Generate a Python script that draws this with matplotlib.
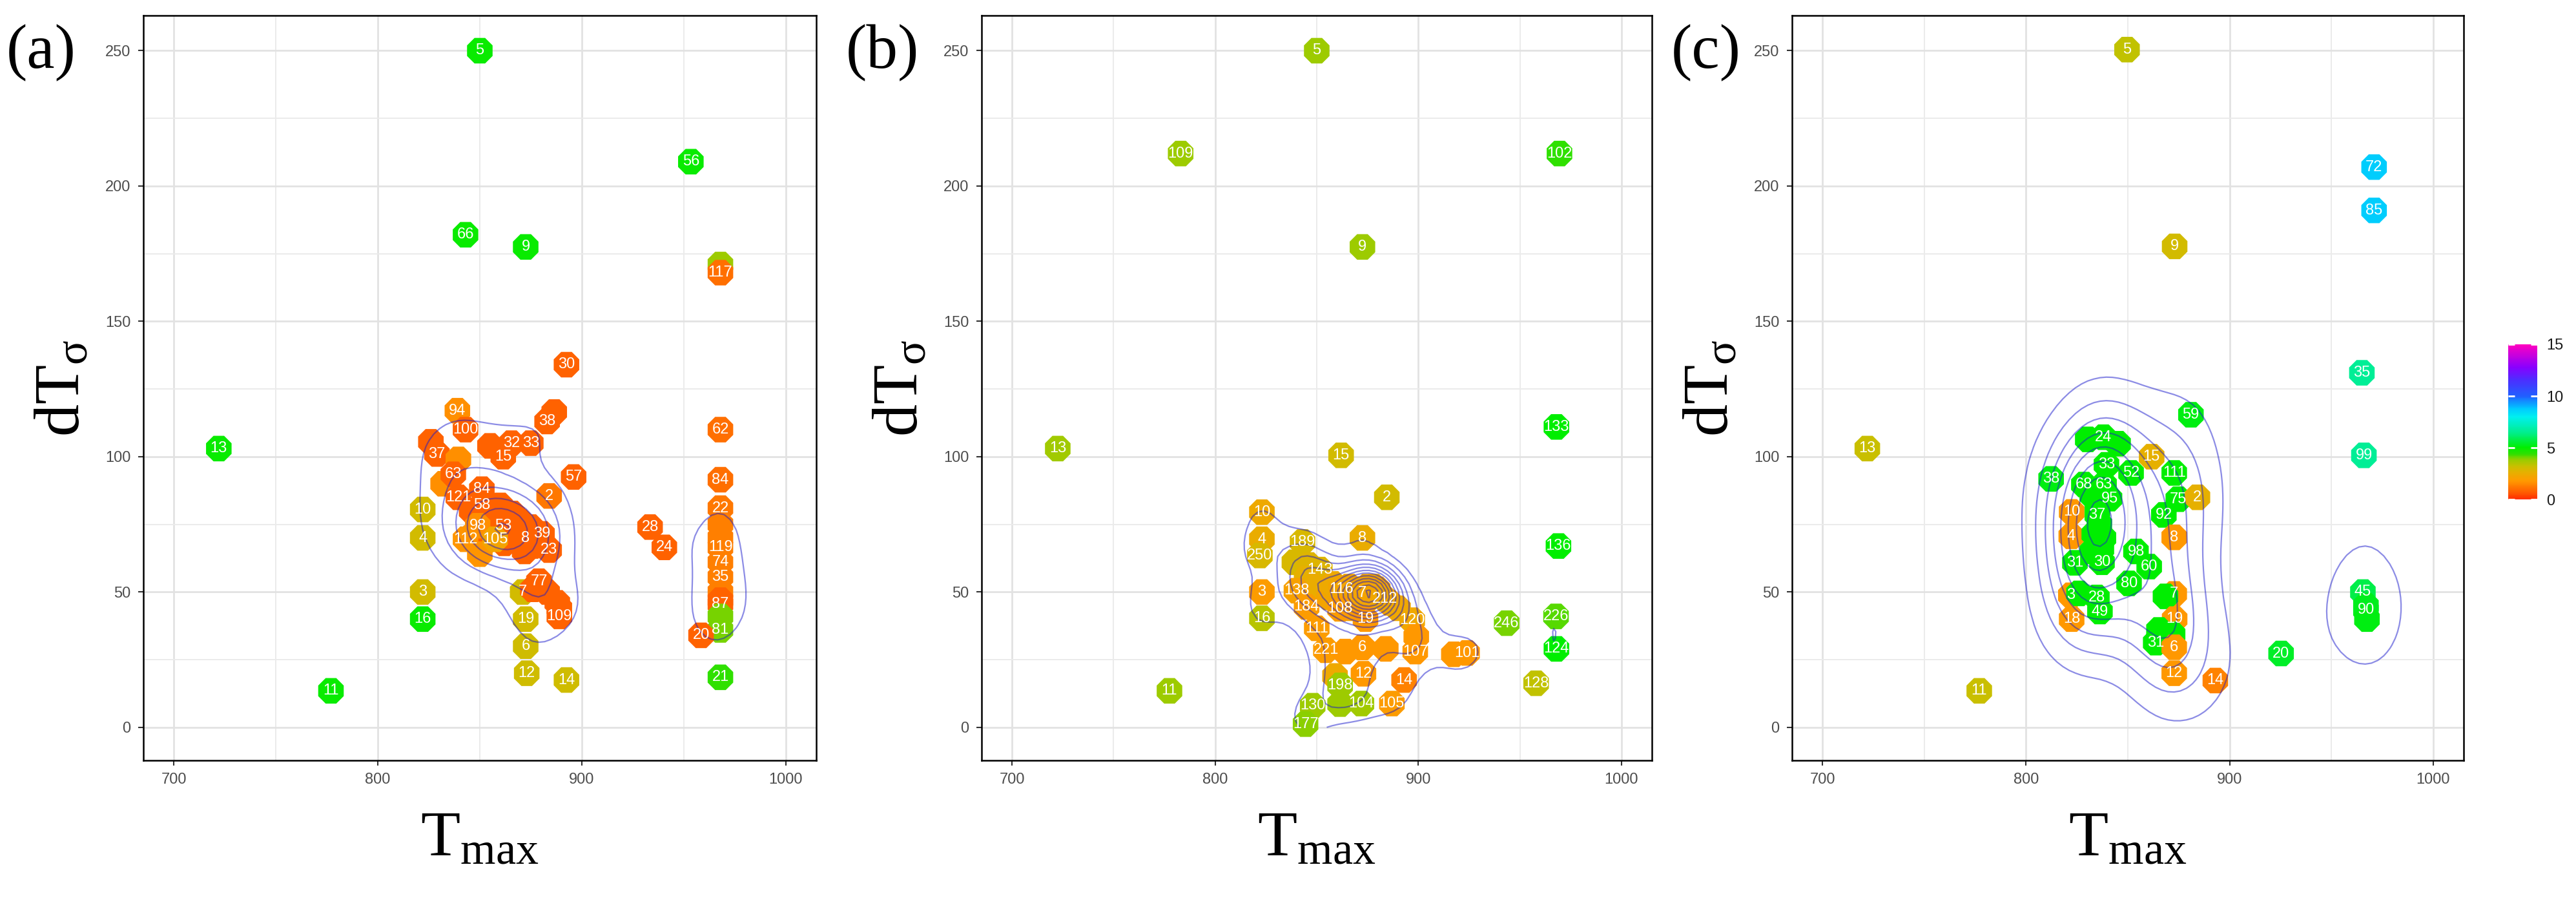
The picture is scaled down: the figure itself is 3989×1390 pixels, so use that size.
import numpy as np
import matplotlib
matplotlib.use("Agg")
import matplotlib.pyplot as plt
from matplotlib.colors import LinearSegmentedColormap, Normalize
from matplotlib.cm import ScalarMappable

# ---------------- data ----------------
# panel (a)
a_lab = ['5','56','66','9','','117','13','11','30','94','100','','38','62','','37','','32','33','15',
         '57','84','','','63','2','121','84','22','58','10','28','24',
         '','','','','','',
         '','','','','','',
         '','','','','','','',
         '','','','','',
         '98','53','39','8','23','4','112','105',
         '','','119','74','35','','','87','','81',
         '7','','','','77','3','16','19','','109','20','6','12','14','21']
a_x = [850,953.5,843,872.5,968,968,722,777,892.5,839,843,886.5,883,968,826,829,855,865.5,875,861.5,
       896,968,839.5,832,837,884,839.5,851,968,851,822,933.5,940.5,
       858,866,875,876,845,852,
       857,863,868,855,862,870,
       850,858,866,874,862,855,870,
       846,860,872,850,866,
       849,861.5,880.5,872.5,884,822,843,857.5,
       968,968,968,968,968,968,968,968,968,968,
       871,876,883,888,879,822,822,872.5,889,889,958.5,872.5,873,892.5,968]
a_y = [250,209,182,177.5,171,168,103,13.5,134,117,110,116.5,113,110,105.5,101,104,105,105,100,
       92.5,91.5,99,90,93.5,85.5,85,88,81,82,80.5,74,66.5,
       78,76,74,67,70,68,
       74,73,72,70,71,75,
       72,74,72,70,68,77,76,
       80,82,65,64,79,
       74.5,74.5,71.5,70,65.5,70,69.5,69.5,
       75,70,66.5,61,55.5,50,47,45.5,41,36,
       50,51,50,46,54,50,40,40,44,41,34,30,20,17.5,18.5]
a_c = [4.9,4.9,4.9,4.9,3.8,1.0,4.9,4.9,0.8,1.6,0.8,0.8,0.8,1.0,0.8,0.8,0.8,0.8,0.8,0.8,
       0.8,1.0,1.6,1.6,0.8,1.2,0.8,0.8,1.2,0.8,3.0,0.8,0.8,
       0.8,0.8,0.8,0.8,1.7,1.9,
       0.8,0.8,0.8,1.8,1.0,0.8,
       0.8,0.8,0.8,0.8,0.8,0.8,0.8,
       0.8,0.8,0.8,1.7,0.8,
       1.6,0.8,0.8,0.8,0.8,3.0,1.7,2.2,
       1.3,1.3,1.3,1.3,1.3,1.3,0.8,0.8,4.0,4.0,
       3.0,0.8,0.8,0.8,0.8,3.0,4.9,3.0,0.8,0.8,0.8,3.1,3.1,3.1,4.4]

# panel (b)
b_lab = ['5','109','102','9','13','133','15','2','10','4','8','189','250','136',
         '','','143','','','','','','','','','','','','','',
         '','','','','','','','',
         '116','7','212','3','138','184','108','19','120','16','246','226','111',
         '','107','','101','124','221','','','6','','12','14','128','11','198','','130','104','105','177']
b_x = [850,783,969.5,872.5,722.5,968,862,884.5,823,823,872.5,843,822,969,
       839,846,851.5,845,848,856,858,866,872,878,876,880,874,886,890,866,
       874,877,879,876,875,880,878,873,
       862,872.5,883.5,823,840,845,861.5,874,897,823,943.5,967.8,850,
       899,898.5,917.5,924,968,854.5,864,884,872.5,859,873,893,958,777.5,861.5,861.5,848,872,887,844.5]
b_y = [250,212,212,177.5,103,111,100.5,85,79.5,69.5,70,68.5,63.5,67,
       61,60,58.3,55,52,48,53,52,51,52,49,50,50,46,44,44,
       50,51,49,48,52,51,50,49,
       51,49.5,47.5,50,50.5,44.5,43.8,40,39.6,40.3,38.5,41,36.6,
       33.5,28,27,27.5,29,28.5,28,29,29.5,19,19.8,17.5,16.3,13.5,15.5,8.6,8,8.8,8.8,1.2]
b_c = [3.8,3.8,4.4,3.8,3.7,5.0,3.0,3.0,2.4,2.5,2.5,2.9,2.9,5.0,
       2.9,2.8,2.8,2.6,2.5,2.2,2.4,2.2,2.2,2.3,2.2,2.2,2.2,2.1,2.3,2.0,
       2.2,2.2,2.2,2.2,2.2,2.2,2.2,2.2,
       2.2,2.2,2.3,1.9,2.1,1.9,1.9,1.8,2.3,3.4,4.0,4.2,1.9,
       1.8,1.8,1.8,1.8,5.0,1.9,1.8,1.8,1.8,2.4,1.8,1.4,3.3,3.8,3.8,3.8,3.8,3.7,1.9,3.9]

# panel (c)
c_lab = ['5','72','85','9','35','59','13','99',
         '','','','','',
         '','','24','15','33','52','111','38','68','63','','95',
         '75','2','10','37','92','4','','','8','98','60','31','30','80','3','','28','7','','49',
         '18','19','','','31','6','45','','90','','20','12','14','11']
c_x = [849.6,971,971,873,965,881,722,966,
       836,838,835,837,839,
       830.3,845.2,838,861.7,839.5,851.6,872.8,812.3,828.4,838.3,832.5,841,
       874.8,884.2,822.4,835,867.7,822.2,833.5,832.5,872.8,854,860.5,824,837.3,850.6,822,826,834.8,872.8,868.5,836.3,
       822.4,873,865.3,872,863.7,872.8,965.5,967,967,967.5,925.3,872.8,893,777]
c_y = [250.4,207,191,177.7,131,115.5,103,100.5,
       75,70,80,66,85,
       106.4,104.8,107.2,100,97,94,94,91.8,89.7,89.7,85.7,84.5,
       84.3,85,79.6,78.5,78.5,70.6,71.4,65,70.2,65,59.4,60.8,61,53.2,48.8,49.5,48,49.3,48.4,42.8,
       40,40,36,34.4,31.3,29.6,50,45,43.3,40,27.3,20,17.3,13.5]
c_c = [3.3,8.7,8.7,3.0,6.6,5.2,3.2,6.6,
       5.0,5.0,5.0,5.0,5.0,
       5.0,5.0,5.0,2.6,5.0,5.0,5.0,5.2,5.0,5.0,5.0,5.0,
       5.0,2.6,1.8,5.0,5.0,1.8,5.0,5.0,1.8,5.0,5.0,5.0,5.0,5.0,1.8,5.0,5.0,1.8,5.0,5.0,
       1.8,1.8,5.0,5.0,5.0,1.8,5.8,5.3,5.3,5.2,5.4,1.8,1.4,3.2]

panel_tags = ['(a)', '(b)', '(c)']
x_ticks = [700, 800, 900, 1000]
y_ticks = [0, 50, 100, 150, 200, 250]
cbar_ticks = [0, 5, 10, 15]
x_limits = (700, 1000)
y_limits = (0, 250)

# colour scale (value, colour)
cmap_stops = [(0, '#FF3000'), (0.8, '#FF6400'), (1.8, '#FF9A00'), (2.6, '#E6B000'),
              (3.2, '#C8C000'), (3.8, '#9ACC00'), (4.4, '#30E000'), (5.0, '#00EE00'),
              (6.5, '#00EE90'), (8.0, '#00F0F0'), (8.8, '#00C8FF'), (10.0, '#2060FF'),
              (11.5, '#4A30FF'), (12.8, '#8800FF'), (15, '#FF00C0')]

# kernel bandwidth adjustment per panel
bw_adjust = [1.05, 0.8, 1.15]

# ---------------- helpers ----------------
cmap = LinearSegmentedColormap.from_list('rb', [(v / 15.0, col) for v, col in cmap_stops])
norm = Normalize(0, 15)


def bw_nrd(v):
    q = np.quantile(v, [0.25, 0.75])
    h = (q[1] - q[0]) / 1.34
    return 4 * 1.06 * min(np.std(v, ddof=1), h) * len(v) ** (-0.2)


def kde2d(x, y, adj=1.0, n=100):
    x = np.asarray(x, float); y = np.asarray(y, float)
    hx = adj * bw_nrd(x) / 4; hy = adj * bw_nrd(y) / 4
    gx = np.linspace(x_limits[0], x_limits[1], n)
    gy = np.linspace(y_limits[0], y_limits[1], n)
    ax_ = (gx[:, None] - x[None, :]) / hx
    ay_ = (gy[:, None] - y[None, :]) / hy
    px = np.exp(-0.5 * ax_ ** 2) / np.sqrt(2 * np.pi)
    py = np.exp(-0.5 * ay_ ** 2) / np.sqrt(2 * np.pi)
    z = px @ py.T / (len(x) * hx * hy)
    return gx, gy, z


def r_pretty_levels(zmax, n=10, h=1.5):
    cell = zmax / n
    U = 10 ** np.floor(np.log10(cell))
    unit = U
    h5 = 0.5 + 1.5 * h
    if 2 * U - cell < h * (cell - unit):
        unit = 2 * U
        if 5 * U - cell < h5 * (cell - unit):
            unit = 5 * U
            if 10 * U - cell < h * (cell - unit):
                unit = 10 * U
    return np.arange(unit, zmax, unit)


plt.rcParams['font.family'] = ['Liberation Sans', 'DejaVu Sans']

fig = plt.figure(figsize=(39.89, 13.90), dpi=100)
W, H = 3989.0, 1390.0
bottom = 1 - 1177 / H
height = (1177 - 24) / H
lefts = [222, 1520, 2775]
widths = [1042, 1038, 1040]
tag_x = [10, 1310, 2588]

panels = [(a_lab, a_x, a_y, a_c), (b_lab, b_x, b_y, b_c), (c_lab, c_x, c_y, c_c)]

for i, (lab, xs, ys, cs) in enumerate(panels):
    ax = fig.add_axes([lefts[i] / W, bottom, widths[i] / W, height])
    ax.set_xlim(685, 1015)
    ax.set_ylim(-12.2, 263)
    ax.set_xticks(x_ticks)
    ax.set_xticks([750, 850, 950], minor=True)
    ax.set_yticks(y_ticks)
    ax.set_yticks([25, 75, 125, 175, 225], minor=True)
    ax.grid(which='major', color='#E2E2E2', lw=2.0)
    ax.grid(which='minor', color='#EBEBEB', lw=1.4)
    ax.set_axisbelow(True)
    ax.tick_params(which='major', length=6, width=1.5, color='#333333',
                   labelsize=17, labelcolor='#4D4D4D', pad=8)
    ax.tick_params(which='minor', length=0)
    for s in ax.spines.values():
        s.set_color('black')
        s.set_linewidth(1.8)

    ax.scatter(xs, ys, c=cs, cmap=cmap, norm=norm, s=950, marker='8',
               linewidths=0, zorder=3)
    gx, gy, z = kde2d(xs, ys, bw_adjust[i])
    lev = r_pretty_levels(z.max())
    ax.contour(gx, gy, z.T, levels=lev, colors=[(0.1, 0.1, 0.8)], alpha=0.5,
               linewidths=1.6, zorder=4)
    for t, xx, yy in zip(lab, xs, ys):
        if t:
            ax.text(xx, yy, t, color='white', fontsize=17, ha='center', va='center',
                    zorder=5)

    ax.set_xlabel(r'$\mathregular{T_{max}}$', fontfamily='Liberation Serif', fontsize=72)
    ax.xaxis.set_label_coords(0.5, -0.068)
    ax.set_ylabel(r'$\mathregular{dT_{σ}}$', fontfamily='Liberation Serif', fontsize=72)
    ax.yaxis.set_label_coords(-0.075, 0.5)

    fig.text(tag_x[i] / W, 1 - 82 / H, panel_tags[i], fontfamily='Liberation Serif',
             fontsize=70, ha='left', va='center')

# colour bar
cax = fig.add_axes([3884 / W, 1 - 773 / H, 45 / W, 240 / H])
sm = ScalarMappable(norm=norm, cmap=cmap)
cb = fig.colorbar(sm, cax=cax, ticks=cbar_ticks)
cb.outline.set_visible(False)
cax.yaxis.set_ticks_position('both')
cax.tick_params(axis='y', direction='in', color='white', length=7, width=2,
                left=True, right=True, labelleft=False, labelright=True,
                labelsize=17, labelcolor='#1A1A1A', pad=10)

fig.savefig('out.png', dpi=100)
